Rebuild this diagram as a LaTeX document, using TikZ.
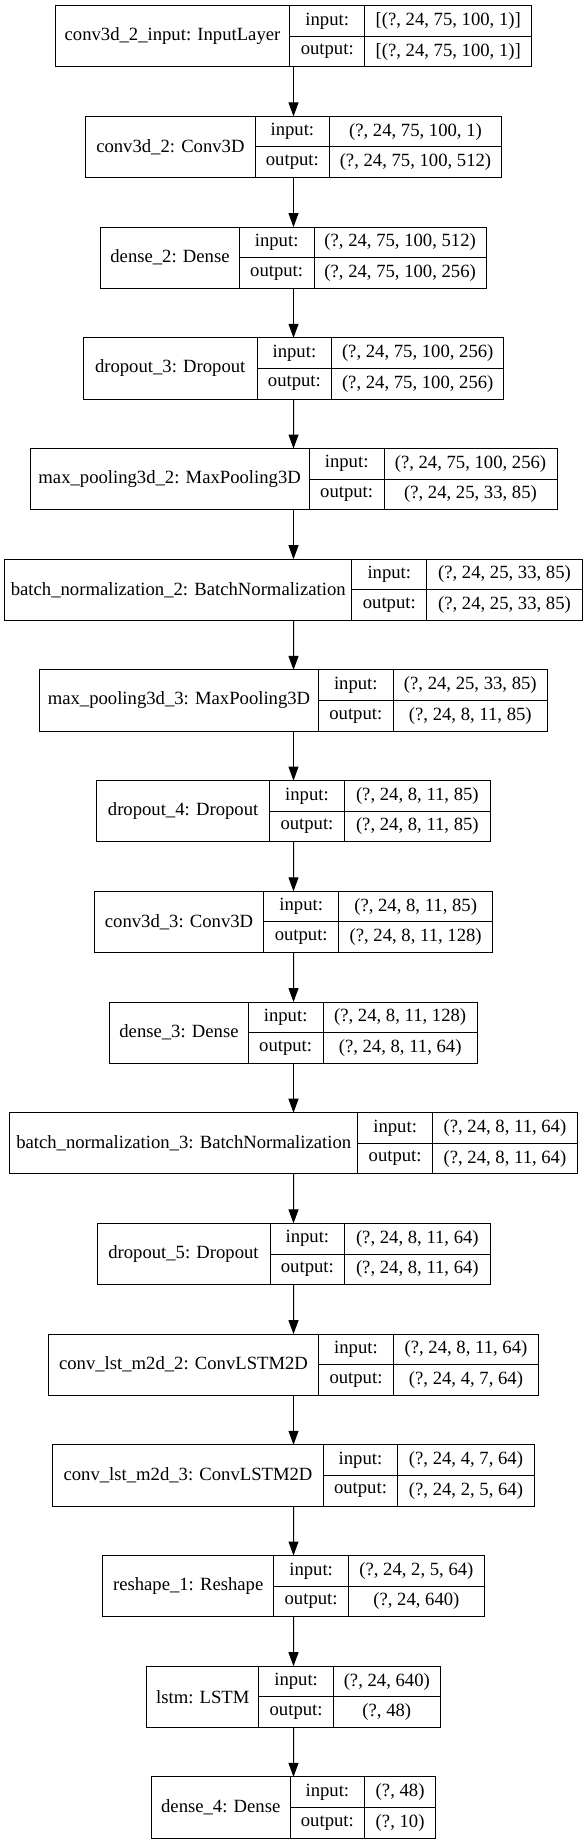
\documentclass[tikz,border=0pt]{standalone}
\usepackage{fontspec}
\setmainfont{Liberation Serif}
\usepackage{tikz}
\usetikzlibrary{positioning, arrows.meta}

\tikzset{
  cell/.style={draw, line width=0.75pt, inner sep=0pt, outer sep=0pt, anchor=north west,
    minimum height=30.6*0.75pt, font=\fontsize{14pt}{16pt}\selectfont},
  rec/.style={inner sep=0pt, outer sep=0pt, anchor=north west, minimum height=61.2*0.75pt},
  arr/.style={-{Triangle[length=10.5pt, width=7.5pt]}, line width=0.75pt}
}

\begin{document}
\begin{tikzpicture}[x=0.75pt, y=-0.75pt]
    \fill[white] (0,0) rectangle (587,1844);
    \useasboundingbox (0,0) rectangle (587,1844);

    % Data
    \foreach \n/\wa/\wb/\lbl/\shin/\shout in {
      1/234.8/167.3/{conv3d\_2\_input: InputLayer}/{[(?, 24, 75, 100, 1)]}/{[(?, 24, 75, 100, 1)]},
      2/169.2/171.5/{conv3d\_2: Conv3D}/{(?, 24, 75, 100, 1)}/{(?, 24, 75, 100, 512)},
      3/138.6/172.3/{dense\_2: Dense}/{(?, 24, 75, 100, 512)}/{(?, 24, 75, 100, 256)},
      4/173.7/171.9/{dropout\_3: Dropout}/{(?, 24, 75, 100, 256)}/{(?, 24, 75, 100, 256)},
      5/279.3/173.0/{max\_pooling3d\_2: MaxPooling3D}/{(?, 24, 75, 100, 256)}/{(?, 24, 25, 33, 85)},
      6/347.3/155.7/{batch\_normalization\_2: BatchNormalization}/{(?, 24, 25, 33, 85)}/{(?, 24, 25, 33, 85)},
      7/278.9/154.3/{max\_pooling3d\_3: MaxPooling3D}/{(?, 24, 25, 33, 85)}/{(?, 24, 8, 11, 85)},
      8/173.0/146.1/{dropout\_4: Dropout}/{(?, 24, 8, 11, 85)}/{(?, 24, 8, 11, 85)},
      9/169.6/154.2/{conv3d\_3: Conv3D}/{(?, 24, 8, 11, 85)}/{(?, 24, 8, 11, 128)},
      10/138.6/154.3/{dense\_3: Dense}/{(?, 24, 8, 11, 128)}/{(?, 24, 8, 11, 64)},
      11/348.2/144.9/{batch\_normalization\_3: BatchNormalization}/{(?, 24, 8, 11, 64)}/{(?, 24, 8, 11, 64)},
      12/173.0/145.3/{dropout\_5: Dropout}/{(?, 24, 8, 11, 64)}/{(?, 24, 8, 11, 64)},
      13/270.3/145.3/{conv\_lst\_m2d\_2: ConvLSTM2D}/{(?, 24, 8, 11, 64)}/{(?, 24, 4, 7, 64)},
      14/270.3/136.3/{conv\_lst\_m2d\_3: ConvLSTM2D}/{(?, 24, 4, 7, 64)}/{(?, 24, 2, 5, 64)},
      15/171.1/135.9/{reshape\_1: Reshape}/{(?, 24, 2, 5, 64)}/{(?, 24, 640)},
      16/111.9/106.7/{lstm: LSTM}/{(?, 24, 640)}/{(?, 48)},
      17/138.5/70.8/{dense\_4: Dense}/{(?, 48)}/{(?, 10)}} {
      \pgfmathsetmacro\tot{\wa+74.7+\wb}
      \pgfmathsetmacro\xl{293.5-\tot/2}
      \pgfmathsetmacro\yt{5.7+110.7*(\n-1)}

      % Draw the record
      \node[rec, minimum width=\tot*0.75pt] (l\n) at (\xl,\yt) {};
      \node[cell, minimum width=\wa*0.75pt, minimum height=61.2*0.75pt] (n\n) at (\xl,\yt) {\lbl};
      \node[cell, minimum width=74.7*0.75pt] (i\n) at (n\n.north east) {input:};
      \node[cell, minimum width=74.7*0.75pt] (o\n) at (i\n.south west) {output:};
      \node[cell, minimum width=\wb*0.75pt] (si\n) at (i\n.north east) {\shin};
      \node[cell, minimum width=\wb*0.75pt] (so\n) at (si\n.south west) {\shout};
    }

    % Draw arrows between the records
    \foreach \n [remember=\n as \m (initially 1)] in {2,...,17}
      \draw[arr] (l\m.south) -- (l\n.north);

\end{tikzpicture}
\end{document}
